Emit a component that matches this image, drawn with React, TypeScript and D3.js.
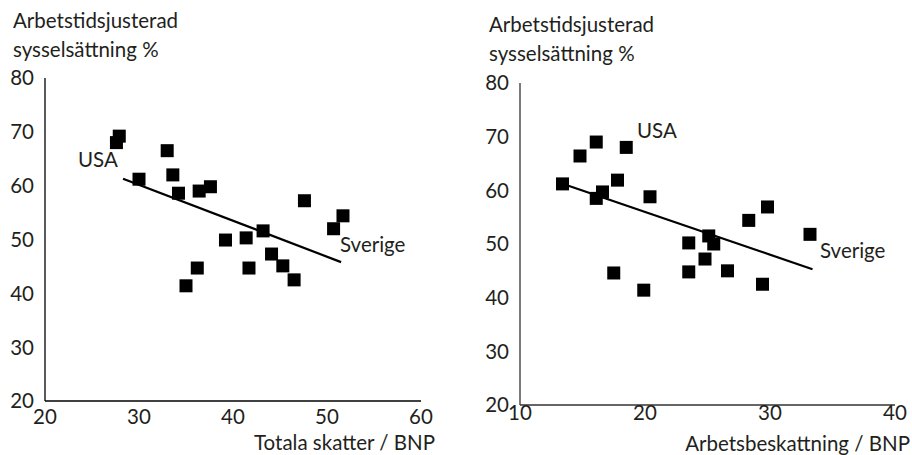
import React from "react";
import * as d3 from "d3";

// Left panel: total taxes / GDP vs hours-adjusted employment
const taxX = [27.6, 27.9, 30, 33, 33.6, 34.2, 36.4, 37.6, 47.6, 51.7, 50.7, 43.2, 39.2, 41.4, 36.2, 35, 41.7, 44.1, 45.3, 46.5];
const taxY = [68, 69.2, 61.2, 66.5, 62, 58.6, 59, 59.8, 57.2, 54.4, 52, 51.6, 49.9, 50.3, 44.7, 41.4, 44.7, 47.3, 45.1, 42.5];
const taxTrendX = [28.3, 51.5];
const taxTrendY = [61.3, 45.8];

// Right panel: labour taxation / GDP
const labX = [13.4, 14.8, 16.1, 18.5, 16.1, 16.6, 17.8, 20.4, 28.3, 29.8, 33.2, 25.1, 25.5, 23.5, 24.8, 23.5, 26.6, 29.4, 17.5, 19.9];
const labY = [61.2, 66.4, 69, 68, 58.5, 59.7, 61.9, 58.8, 54.4, 56.9, 51.8, 51.5, 50, 50.2, 47.2, 44.8, 45, 42.5, 44.6, 41.4];
const labTrendX = [13.7, 33.4];
const labTrendY = [61, 45.3];

const yTicks = [20, 30, 40, 50, 60, 70, 80];
const taxTicks = [20, 30, 40, 50, 60];
const labTicks = [10, 20, 30, 40];

const FONT = "Lato, 'Open Sans', sans-serif";
const INK = "#231f20";

interface PanelProps {
  xs: number[];
  ys: number[];
  trendX: number[];
  trendY: number[];
  xDomain: [number, number];
  xTicks: number[];
  xRange: [number, number];
  yRange: [number, number];
  tickGap: number;
  titleX: number;
  titleY: number;
  xTitle: string;
  xTitleX: number;
  xTitleY: number;
  usa: [number, number];
  sverige: [number, number];
  axisColor: string;
}

function Panel(p: PanelProps) {
  const x = d3.scaleLinear().domain(p.xDomain).range(p.xRange);
  const y = d3.scaleLinear().domain([20, 80]).range(p.yRange);
  const line = d3.line<number>()
    .x((_, i) => x(p.trendX[i]))
    .y((_, i) => y(p.trendY[i]));
  const s = 13;
  const x0 = p.xRange[0];
  const y0 = p.yRange[0];
  const fs = 20.5;
  return (
    <g fontFamily={FONT} fill={INK}>
      <text x={p.titleX} y={p.titleY} fontSize={fs}>Arbetstidsjusterad</text>
      <text x={p.titleX} y={p.titleY + 29} fontSize={fs}>sysselsättning %</text>

      {/* axes */}
      <line x1={x0} x2={x0} y1={p.yRange[1]} y2={y0} stroke={p.axisColor} strokeWidth={1.3} />
      <line x1={x0} x2={p.xRange[1]} y1={y0} y2={y0} stroke={p.axisColor} strokeWidth={1.3} />

      {yTicks.map(t => (
        <text key={t} x={x0 - 11} y={y(t)} dy="0.36em" textAnchor="end" fontSize={fs}>{t}</text>
      ))}
      {p.xTicks.map(t => (
        <text key={t} x={x(t)} y={y0 + p.tickGap} dy="0.36em" textAnchor="middle" fontSize={fs}>{t}</text>
      ))}
      <text x={p.xTitleX} y={p.xTitleY} textAnchor="end" fontSize={fs}>{p.xTitle}</text>

      <path d={line(p.trendX) ?? ""} fill="none" stroke="#000" strokeWidth={2.2} />
      {p.xs.map((v, i) => (
        <rect key={i} x={x(v) - s / 2} y={y(p.ys[i]) - s / 2} width={s} height={s} fill="#000" />
      ))}

      <text x={p.usa[0]} y={p.usa[1]} fontSize={fs}>USA</text>
      <text x={p.sverige[0]} y={p.sverige[1]} fontSize={fs}>Sverige</text>
    </g>
  );
}

export default function App() {
  return (
    <div style={{ position: "absolute", left: 0, top: 0 }}>
      <svg width={912} height={455} style={{ display: "block", background: "#fff" }}>
        <Panel
          xs={taxX} ys={taxY} trendX={taxTrendX} trendY={taxTrendY}
          xDomain={[20, 60]} xTicks={taxTicks} xRange={[45, 421]} yRange={[401, 78]}
          tickGap={16}
          titleX={13} titleY={28}
          xTitle="Totala skatter / BNP" xTitleX={435} xTitleY={450}
          usa={[78, 167]} sverige={[340, 252]} axisColor="#000"
        />
        <Panel
          xs={labX} ys={labY} trendX={labTrendX} trendY={labTrendY}
          xDomain={[10, 40]} xTicks={labTicks} xRange={[520, 895]} yRange={[405, 83]}
          tickGap={8}
          titleX={489} titleY={32}
          xTitle="Arbetsbeskattning / BNP" xTitleX={910} xTitleY={451}
          usa={[637, 138]} sverige={[820, 258]} axisColor="#333"
        />
      </svg>
    </div>
  );
}
